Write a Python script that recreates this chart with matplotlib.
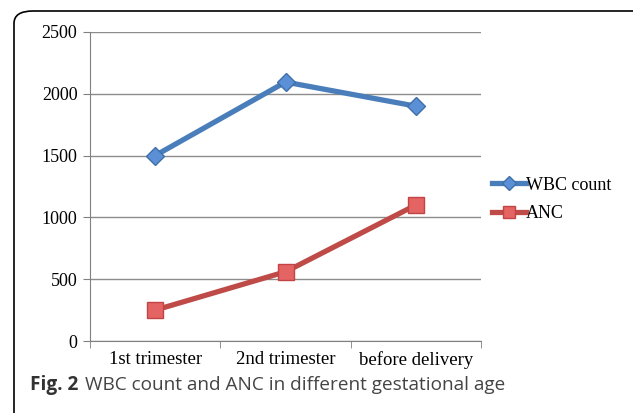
import matplotlib.pyplot as plt
from matplotlib.patches import FancyBboxPatch

stages = ['1st trimester', '2nd trimester', 'before delivery']
wbc_count = [1500, 2095, 1900]
anc = [250, 560, 1100]
y_ticks = [0, 500, 1000, 1500, 2000, 2500]

W, H = 633, 413
fig = plt.figure(figsize=(W / 100, H / 100), dpi=100)

# rounded frame around chart + caption
frame = FancyBboxPatch((14 / W, -0.2), 1.2, 1.2 - 11 / H,
                       boxstyle='round,pad=0,rounding_size=0.03',
                       transform=fig.transFigure, facecolor='none',
                       edgecolor='black', linewidth=1.2, zorder=-1)
fig.patches.append(frame)

ax = fig.add_axes([90 / W, 1 - 341 / H, 391 / W, 309 / H])
ax.set_facecolor('none')
x = list(range(len(stages)))

ax.plot(x, wbc_count, color='#4a7ebb', lw=3.8, marker='D', ms=9.5,
        mfc='#5b8fd6', mec='#3f6fab', mew=1, label='WBC count', zorder=3)
ax.plot(x, anc, color='#be4b48', lw=3.8, marker='s', ms=11,
        mfc='#e46464', mec='#c24444', mew=1, label='ANC', zorder=3)

ax.set_xlim(-0.5, 2.5)
ax.set_ylim(0, 2500)
ax.set_yticks(y_ticks)
ax.set_xticks(x)
ax.set_xticklabels(stages)
ax.set_xticks([-0.5, 0.5, 1.5, 2.5], minor=True)
ax.tick_params(axis='x', which='major', length=0, pad=7)
ax.tick_params(axis='x', which='minor', length=5, color='#808080')
ax.tick_params(axis='y', length=5, color='#808080', pad=4)
for lab in ax.get_xticklabels():
    lab.set_fontfamily('Liberation Serif')
    lab.set_fontsize(13.5)
for lab in ax.get_yticklabels():
    lab.set_fontfamily('Liberation Serif')
    lab.set_fontsize(13)

ax.yaxis.grid(True, color='#8c8c8c', lw=1)
ax.set_axisbelow(True)
for side in ['top', 'right']:
    ax.spines[side].set_visible(False)
ax.spines['left'].set_color('#808080')
ax.spines['bottom'].set_color('#808080')

leg = ax.legend(loc='center left', bbox_to_anchor=(1.0, 0.458), frameon=False,
                prop={'family': 'Liberation Serif', 'size': 13},
                handlelength=1.9, handletextpad=0.0, labelspacing=0.65,
                borderaxespad=0.2, markerscale=0.75)

fig.text(30 / W, 1 - 385 / H, 'Fig. 2', fontsize=13.7, fontweight='bold',
         family='Open Sans', color='#333333', va='center')
fig.text(85 / W, 1 - 385 / H, 'WBC count and ANC in different gestational age',
         fontsize=13.7, family='Open Sans', color='#444444', va='center')

fig.savefig('out.png', dpi=100)
